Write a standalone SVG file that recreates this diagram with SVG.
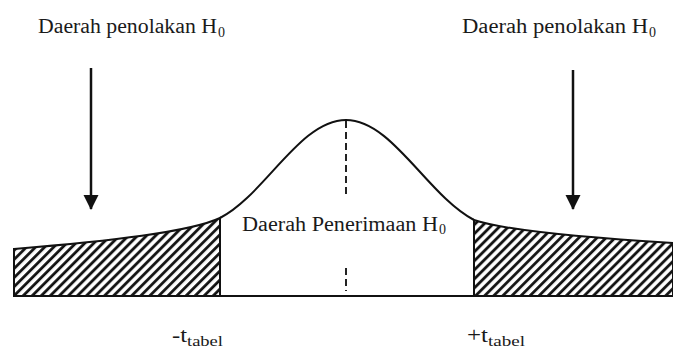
<svg xmlns="http://www.w3.org/2000/svg" width="673" height="349" viewBox="0 0 673 349">
<style>
.t{font-family:"Liberation Serif","Times New Roman",serif;fill:#1a1a1a;}
.m{font-size:20px;}
.s{font-size:14px;}
.ln{stroke:#111;fill:none;stroke-width:2;}
.hatch{fill:url(#hp);stroke:#111;stroke-width:2;}
.dash{stroke:#222;stroke-width:2;stroke-dasharray:7 4;fill:none;}
.arr{stroke:#111;stroke-width:2.5;fill:none;marker-end:url(#ah);}
</style>
<defs>
<pattern id="hp" patternUnits="userSpaceOnUse" width="6.4" height="10" patternTransform="rotate(45)">
<rect width="6.4" height="10" fill="#fff"/>
<line x1="1.5" y1="0" x2="1.5" y2="10" stroke="#111" stroke-width="2.8"/>
</pattern>
<marker id="ah" markerUnits="userSpaceOnUse" markerWidth="16" markerHeight="18" refX="14" refY="7.5" orient="auto">
<path d="M0,0 L15,7.5 L0,15 Z" fill="#111"/>
</marker>
</defs>
<rect width="673" height="349" fill="#fff"/>
<g id="reject-left">
<path class="hatch" d="M14,249 C110,241 190,232 220,218 L220,296 L14,296 Z"/>
</g>
<g id="reject-right">
<path class="hatch" d="M474,220 C504,230 590,238 673,243 L673,296 L474,296 Z"/>
</g>
<g id="curve">
<path class="ln" d="M220,218 C265,195 300,120 346,120 C392,120 427,195 474,220"/>
<line class="ln" x1="14" y1="296" x2="673" y2="296"/>
<line class="dash" x1="346" y1="121" x2="346" y2="198"/>
<line class="dash" x1="346" y1="268" x2="346" y2="291"/>
</g>
<g id="label-left">
<text class="t m" x="38" y="33" textLength="179" lengthAdjust="spacingAndGlyphs">Daerah penolakan H</text>
<text class="t s" x="218" y="37">0</text>
</g>
<g id="label-right">
<text class="t m" x="462" y="33" textLength="186" lengthAdjust="spacingAndGlyphs">Daerah penolakan H</text>
<text class="t s" x="649" y="37">0</text>
</g>
<g id="label-accept">
<text class="t m" x="242" y="231" textLength="196" lengthAdjust="spacingAndGlyphs">Daerah Penerimaan H</text>
<text class="t s" x="439" y="234">0</text>
</g>
<g id="label-neg">
<text class="t m" x="172" y="342" textLength="15" lengthAdjust="spacingAndGlyphs">-t</text>
<text class="t s" x="187" y="346" textLength="36" lengthAdjust="spacingAndGlyphs">tabel</text>
</g>
<g id="label-pos">
<text class="t m" x="467" y="342" textLength="21" lengthAdjust="spacingAndGlyphs">+t</text>
<text class="t s" x="488" y="346" textLength="37" lengthAdjust="spacingAndGlyphs">tabel</text>
</g>
<g id="connectors">
<line class="arr" x1="91" y1="68" x2="91" y2="209"/>
<line class="arr" x1="573" y1="70" x2="573" y2="209"/>
</g>
</svg>
